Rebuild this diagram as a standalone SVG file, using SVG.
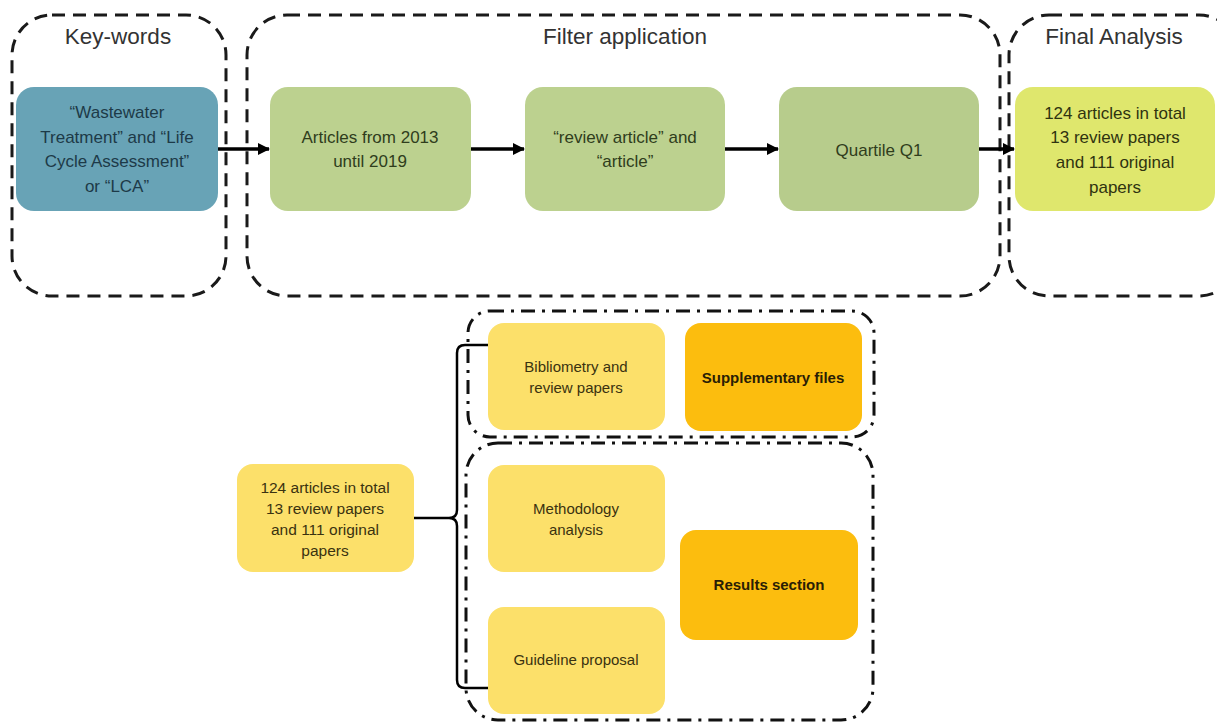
<svg xmlns="http://www.w3.org/2000/svg" width="1217" height="722" viewBox="0 0 1217 722">
<style>
.grp{fill:none;stroke:#1a1a1a;stroke-width:3;stroke-dasharray:13 8}
.dd{fill:none;stroke:#111;stroke-width:3;stroke-dasharray:14 7 3 7}
.title{font-family:"Liberation Sans",Arial,sans-serif;font-size:22.5px;fill:#333;text-anchor:middle}
.t{font-family:"Liberation Sans",Arial,sans-serif;text-anchor:middle}
.blue{fill:#68a3b6}
.green{fill:#bcd18f}
.green2{fill:#b7cc8c}
.lime{fill:#dfe76d}
.yel{fill:#fce06a}
.org{fill:#fcbd0e}
.conn{fill:none;stroke:#000;stroke-width:3.5}
.br{fill:none;stroke:#000;stroke-width:2.5}
</style>
<defs>
<marker id="ah" markerWidth="12" markerHeight="12" refX="11" refY="6" orient="auto" markerUnits="userSpaceOnUse">
<path d="M0,0 L12,6 L0,12 Z" fill="#000"/>
</marker>
</defs>
<rect width="1217" height="722" fill="#fff"/>

<g id="grp-keywords">
<rect class="grp" x="12" y="15" width="214" height="281" rx="40"/>
<text class="title" x="118" y="44">Key-words</text>
</g>
<g id="grp-filter">
<rect class="grp" x="247" y="15" width="753" height="281" rx="40"/>
<text class="title" x="625" y="44">Filter application</text>
</g>
<g id="grp-final">
<rect class="grp" x="1009" y="15" width="230" height="281" rx="40"/>
<text class="title" x="1114" y="44">Final Analysis</text>
</g>
<g id="grp-upper">
<rect class="dd" x="468" y="311" width="406" height="126" rx="22"/>
</g>
<g id="grp-lower">
<rect class="dd" x="466" y="443" width="407" height="277" rx="32"/>
</g>

<g id="connectors">
<line class="conn" x1="218" y1="149" x2="269" y2="149" marker-end="url(#ah)"/>
<line class="conn" x1="471" y1="149" x2="524" y2="149" marker-end="url(#ah)"/>
<line class="conn" x1="725" y1="149" x2="778" y2="149" marker-end="url(#ah)"/>
<line class="conn" x1="979" y1="149" x2="1014" y2="149" marker-end="url(#ah)"/>
<path class="br" d="M414,518 H449"/>
<path class="br" d="M488,345 H465 Q457,345 457,353 V510 Q457,518 449,518 Q457,518 457,526 V680 Q457,688 465,688 H488"/>
</g>

<g id="n-keywords">
<rect class="blue" x="16" y="87" width="202" height="124" rx="18"/>
<text class="t" font-size="17" fill="#1d3a48"><tspan x="117" y="118">“Wastewater</tspan><tspan x="117" y="143">Treatment” and “Life</tspan><tspan x="117" y="167">Cycle Assessment”</tspan><tspan x="117" y="192">or “LCA”</tspan></text>
</g>
<g id="n-years">
<rect class="green" x="270" y="87" width="201" height="124" rx="18"/>
<text class="t" font-size="17" fill="#2f3d1c"><tspan x="370" y="143">Articles from 2013</tspan><tspan x="370" y="167">until 2019</tspan></text>
</g>
<g id="n-type">
<rect class="green" x="525" y="87" width="200" height="124" rx="18"/>
<text class="t" font-size="17" fill="#2f3d1c"><tspan x="625" y="143">“review article” and</tspan><tspan x="625" y="167">“article”</tspan></text>
</g>
<g id="n-quartile">
<rect class="green2" x="779" y="87" width="200" height="124" rx="18"/>
<text class="t" font-size="17" fill="#2f3d1c" x="879" y="156">Quartile Q1</text>
</g>
<g id="n-final">
<rect class="lime" x="1015" y="87" width="200" height="124" rx="18"/>
<text class="t" font-size="17" fill="#2f3310"><tspan x="1115" y="119">124 articles in total</tspan><tspan x="1115" y="143">13 review papers</tspan><tspan x="1115" y="168">and 111 original</tspan><tspan x="1115" y="193">papers</tspan></text>
</g>

<g id="n-total">
<rect class="yel" x="237" y="464" width="177" height="108" rx="16"/>
<text class="t" font-size="15.5" fill="#3a3210"><tspan x="325" y="493">124 articles in total</tspan><tspan x="325" y="514">13 review papers</tspan><tspan x="325" y="535">and 111 original</tspan><tspan x="325" y="556">papers</tspan></text>
</g>
<g id="n-biblio">
<rect class="yel" x="488" y="323" width="177" height="107" rx="16"/>
<text class="t" font-size="15" fill="#3a3210"><tspan x="576" y="372">Bibliometry and</tspan><tspan x="576" y="393">review papers</tspan></text>
</g>
<g id="n-method">
<rect class="yel" x="488" y="465" width="177" height="107" rx="16"/>
<text class="t" font-size="15" fill="#3a3210"><tspan x="576" y="514">Methodology</tspan><tspan x="576" y="535">analysis</tspan></text>
</g>
<g id="n-guide">
<rect class="yel" x="488" y="607" width="177" height="107" rx="16"/>
<text class="t" font-size="15" fill="#3a3210" x="576" y="665">Guideline proposal</text>
</g>
<g id="n-supp">
<rect class="org" x="685" y="323" width="177" height="108" rx="16"/>
<text class="t" font-size="15" font-weight="bold" fill="#2a1e05" x="773" y="383">Supplementary files</text>
</g>
<g id="n-results">
<rect class="org" x="680" y="530" width="178" height="110" rx="16"/>
<text class="t" font-size="15" font-weight="bold" fill="#2a1e05" x="769" y="590">Results section</text>
</g>
</svg>
